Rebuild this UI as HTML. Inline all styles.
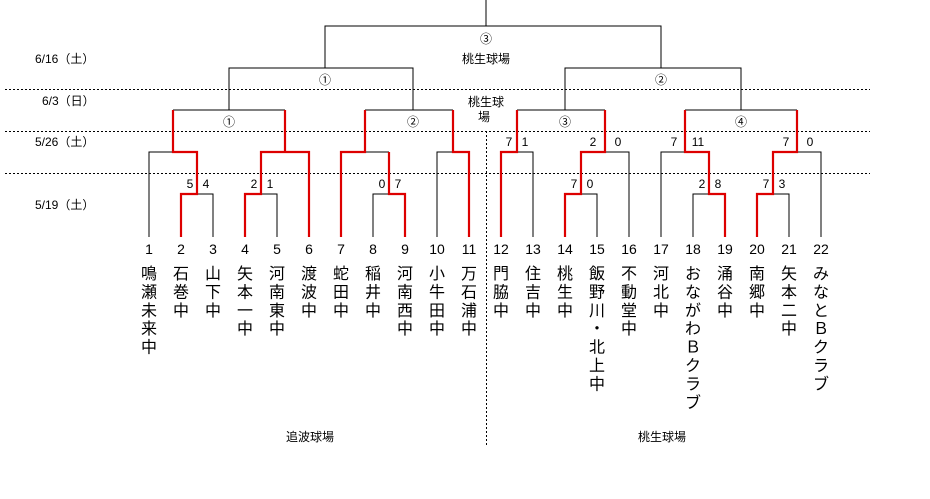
<!DOCTYPE html>
<html><head><meta charset="utf-8"><style>
html,body{margin:0;padding:0;background:#fff;}
svg{display:block;}
text{font-family:"Liberation Sans","Noto Sans CJK JP",sans-serif;fill:#000;}
</style></head><body>
<svg width="930" height="499" viewBox="0 0 930 499" xmlns="http://www.w3.org/2000/svg">
<g stroke="#000" stroke-width="1" stroke-dasharray="2,2" fill="none">
<line x1="5" y1="89.5" x2="870" y2="89.5"/>
<line x1="5" y1="131.5" x2="870" y2="131.5"/>
<line x1="5" y1="173.5" x2="870" y2="173.5"/>
<line x1="486.5" y1="131" x2="486.5" y2="446"/>
</g>
<g stroke="#000" stroke-width="1.2" fill="none" shape-rendering="crispEdges">
<path d="M486 0V26M325 68V26H661V68"/>
<path d="M229 110V68H413V110M565 110V68H741V110"/>
<path d="M173 110H285M365 110H453M517 110H605M685 110H797"/>
<path d="M149 237V152H173M437 237V152H453M533 237V152H517M629 237V152H605M661 237V152H685M821 237V152H797"/>
<path d="M213 237V194H197M277 237V194H261M373 237V194H389M365 152H389M597 237V194H581M693 237V194H709M789 237V194H773"/>
</g>
<g stroke="#d00" stroke-width="2.2" fill="none">
<path d="M181 237V194H197V152H173V110"/>
<path d="M245 237V194H261V152H309V237M285 152V110"/>
<path d="M341 237V152H365V110"/>
<path d="M405 237V194H389V152"/>
<path d="M469 237V152H453V110"/>
<path d="M501 237V152H517V110"/>
<path d="M565 237V194H581V152H605V110"/>
<path d="M725 237V194H709V152H685V110"/>
<path d="M757 237V194H773V152H797V110"/>
</g>
<g font-size="12">
<text x="35" y="63">6/16（土）</text>
<text x="42" y="105">6/3（日）</text>
<text x="35" y="146">5/26（土）</text>
<text x="35" y="209">5/19（土）</text>
</g>
<g font-size="12" text-anchor="middle">
<text x="486" y="43">③</text>
<text x="486" y="63">桃生球場</text>
<text x="325" y="84">①</text>
<text x="661" y="84">②</text>
<text x="486" y="106">桃生球</text>
<text x="484" y="121">場</text>
<text x="229" y="126">①</text>
<text x="413" y="126">②</text>
<text x="565" y="126">③</text>
<text x="741" y="126">④</text>
<text x="310" y="441">追波球場</text>
<text x="662" y="441">桃生球場</text>
</g>
<g font-size="12" text-anchor="middle">
<text x="509" y="146">7</text><text x="525" y="146">1</text>
<text x="593" y="146">2</text><text x="618" y="146">0</text>
<text x="674" y="146">7</text><text x="698" y="146">11</text>
<text x="786" y="146">7</text><text x="810" y="146">0</text>
<text x="190" y="188">5</text><text x="206" y="188">4</text>
<text x="254" y="188">2</text><text x="270" y="188">1</text>
<text x="382" y="188">0</text><text x="398" y="188">7</text>
<text x="574" y="188">7</text><text x="590" y="188">0</text>
<text x="702" y="188">2</text><text x="718" y="188">8</text>
<text x="766" y="188">7</text><text x="782" y="188">3</text>
</g>
<g font-size="14" text-anchor="middle">
<text x="149" y="254">1</text><text x="181" y="254">2</text><text x="213" y="254">3</text><text x="245" y="254">4</text><text x="277" y="254">5</text><text x="309" y="254">6</text><text x="341" y="254">7</text><text x="373" y="254">8</text><text x="405" y="254">9</text><text x="437" y="254">10</text><text x="469" y="254">11</text><text x="501" y="254">12</text><text x="533" y="254">13</text><text x="565" y="254">14</text><text x="597" y="254">15</text><text x="629" y="254">16</text><text x="661" y="254">17</text><text x="693" y="254">18</text><text x="725" y="254">19</text><text x="757" y="254">20</text><text x="789" y="254">21</text><text x="821" y="254">22</text>
</g>
<g font-size="16" text-anchor="middle">
<text x="149" y="279"><tspan x="149">鳴</tspan><tspan x="149" dy="18.4">瀬</tspan><tspan x="149" dy="18.4">未</tspan><tspan x="149" dy="18.4">来</tspan><tspan x="149" dy="18.4">中</tspan></text>
<text x="181" y="279"><tspan x="181">石</tspan><tspan x="181" dy="18.4">巻</tspan><tspan x="181" dy="18.4">中</tspan></text>
<text x="213" y="279"><tspan x="213">山</tspan><tspan x="213" dy="18.4">下</tspan><tspan x="213" dy="18.4">中</tspan></text>
<text x="245" y="279"><tspan x="245">矢</tspan><tspan x="245" dy="18.4">本</tspan><tspan x="245" dy="18.4">一</tspan><tspan x="245" dy="18.4">中</tspan></text>
<text x="277" y="279"><tspan x="277">河</tspan><tspan x="277" dy="18.4">南</tspan><tspan x="277" dy="18.4">東</tspan><tspan x="277" dy="18.4">中</tspan></text>
<text x="309" y="279"><tspan x="309">渡</tspan><tspan x="309" dy="18.4">波</tspan><tspan x="309" dy="18.4">中</tspan></text>
<text x="341" y="279"><tspan x="341">蛇</tspan><tspan x="341" dy="18.4">田</tspan><tspan x="341" dy="18.4">中</tspan></text>
<text x="373" y="279"><tspan x="373">稲</tspan><tspan x="373" dy="18.4">井</tspan><tspan x="373" dy="18.4">中</tspan></text>
<text x="405" y="279"><tspan x="405">河</tspan><tspan x="405" dy="18.4">南</tspan><tspan x="405" dy="18.4">西</tspan><tspan x="405" dy="18.4">中</tspan></text>
<text x="437" y="279"><tspan x="437">小</tspan><tspan x="437" dy="18.4">牛</tspan><tspan x="437" dy="18.4">田</tspan><tspan x="437" dy="18.4">中</tspan></text>
<text x="469" y="279"><tspan x="469">万</tspan><tspan x="469" dy="18.4">石</tspan><tspan x="469" dy="18.4">浦</tspan><tspan x="469" dy="18.4">中</tspan></text>
<text x="501" y="279"><tspan x="501">門</tspan><tspan x="501" dy="18.4">脇</tspan><tspan x="501" dy="18.4">中</tspan></text>
<text x="533" y="279"><tspan x="533">住</tspan><tspan x="533" dy="18.4">吉</tspan><tspan x="533" dy="18.4">中</tspan></text>
<text x="565" y="279"><tspan x="565">桃</tspan><tspan x="565" dy="18.4">生</tspan><tspan x="565" dy="18.4">中</tspan></text>
<text x="597" y="279"><tspan x="597">飯</tspan><tspan x="597" dy="18.4">野</tspan><tspan x="597" dy="18.4">川</tspan><tspan x="597" dy="18.4">・</tspan><tspan x="597" dy="18.4">北</tspan><tspan x="597" dy="18.4">上</tspan><tspan x="597" dy="18.4">中</tspan></text>
<text x="629" y="279"><tspan x="629">不</tspan><tspan x="629" dy="18.4">動</tspan><tspan x="629" dy="18.4">堂</tspan><tspan x="629" dy="18.4">中</tspan></text>
<text x="661" y="279"><tspan x="661">河</tspan><tspan x="661" dy="18.4">北</tspan><tspan x="661" dy="18.4">中</tspan></text>
<text x="693" y="279"><tspan x="693">お</tspan><tspan x="693" dy="18.4">な</tspan><tspan x="693" dy="18.4">が</tspan><tspan x="693" dy="18.4">わ</tspan><tspan x="693" dy="18.4">Ｂ</tspan><tspan x="693" dy="18.4">ク</tspan><tspan x="693" dy="18.4">ラ</tspan><tspan x="693" dy="18.4">ブ</tspan></text>
<text x="725" y="279"><tspan x="725">涌</tspan><tspan x="725" dy="18.4">谷</tspan><tspan x="725" dy="18.4">中</tspan></text>
<text x="757" y="279"><tspan x="757">南</tspan><tspan x="757" dy="18.4">郷</tspan><tspan x="757" dy="18.4">中</tspan></text>
<text x="789" y="279"><tspan x="789">矢</tspan><tspan x="789" dy="18.4">本</tspan><tspan x="789" dy="18.4">二</tspan><tspan x="789" dy="18.4">中</tspan></text>
<text x="821" y="279"><tspan x="821">み</tspan><tspan x="821" dy="18.4">な</tspan><tspan x="821" dy="18.4">と</tspan><tspan x="821" dy="18.4">Ｂ</tspan><tspan x="821" dy="18.4">ク</tspan><tspan x="821" dy="18.4">ラ</tspan><tspan x="821" dy="18.4">ブ</tspan></text>
</g>
</svg>
</body></html>
